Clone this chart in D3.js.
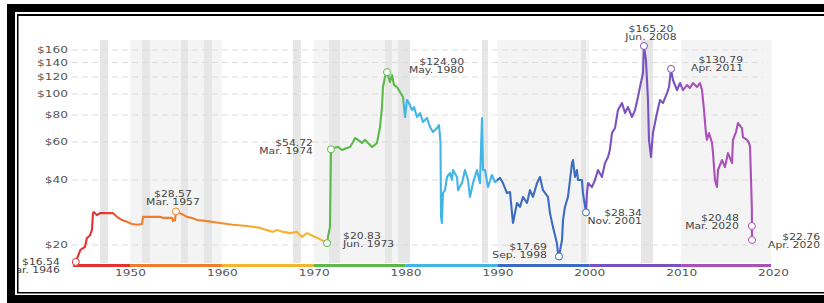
<!DOCTYPE html>
<html>
<head>
<meta charset="utf-8">
<script src="https://cdn.jsdelivr.net/npm/d3@7"></script>
<style>
  body { margin: 0; background: #fff; }
  svg { display: block; }
</style>
</head>
<body>
<div id="chart"></div>
<script>
// price series: [axis year, price in $]
var series = [
  [1944.1,16.7],[1944.6,19.0],[1945.1,19.6],[1945.3,21.5],[1945.65,22.2],[1945.86,23.5],
  [1945.97,28.1],[1946.08,28.4],[1946.4,27.5],[1946.73,28.1],[1947.5,28.1],[1948.15,28.1],
  [1948.58,27.0],[1949.13,26.1],[1949.67,25.6],[1950.22,25.0],[1950.76,24.8],[1951.3,25.0],
  [1951.42,27.0],[1951.85,27.0],[1952.5,27.0],[1953.27,27.0],[1953.6,26.7],[1954.0,26.7],
  [1954.57,26.7],[1954.68,25.8],[1954.9,26.1],[1955.0,28.6],[1955.66,27.8],[1956.2,27.0],
  [1956.75,26.7],[1957.3,26.1],[1958.4,25.8],[1959.8,25.3],[1961.2,24.8],[1962.74,24.5],
  [1964.15,24.0],[1965.57,23.0],[1966.0,23.5],[1966.66,23.0],[1967.42,22.7],[1968.18,23.0],
  [1968.72,21.8],[1969.27,22.7],[1969.92,22.0],[1970.68,21.3],[1971.23,20.65],[1971.45,20.4],
  [1971.55,21.8],[1971.77,24.2],[1971.88,55.5],[1972.1,56.3],[1972.64,56.9],[1973.08,55.1],
  [1973.62,56.3],[1973.95,56.9],[1974.28,60.0],[1974.5,62.6],[1974.82,61.4],[1975.26,59.4],
  [1975.58,61.4],[1975.91,59.4],[1976.35,56.9],[1976.67,58.2],[1976.89,59.4],[1977.22,70.4],
  [1977.43,87.1],[1977.54,107.8],[1977.76,119.9],[1977.98,126.4],[1978.09,122.5],[1978.3,113.7],
  [1978.52,122.5],[1978.74,110.1],[1979.07,107.8],[1979.39,102.2],[1979.72,96.9],[1979.94,78.3],
  [1980.15,93.9],[1980.37,90.9],[1980.7,84.3],[1980.92,87.1],[1981.24,78.3],[1981.57,81.7],
  [1981.9,74.2],[1982.33,77.5],[1982.66,70.4],[1982.98,66.7],[1983.42,69.6],[1983.64,71.9],
  [1983.8,60.0],[1983.86,27.0],[1983.96,25.3],[1984.07,34.8],[1984.29,35.9],[1984.51,41.3],
  [1984.84,43.1],[1985.05,40.0],[1985.16,44.5],[1985.6,41.3],[1985.71,35.9],[1986.14,38.7],
  [1986.47,44.5],[1986.8,40.0],[1987.01,33.4],[1987.34,38.7],[1987.77,44.5],[1988.1,38.7],
  [1988.32,77.5],[1988.43,44.5],[1988.65,44.5],[1988.97,37.1],[1989.4,42.2],[1989.73,39.1],
  [1990.28,40.9],[1990.6,38.7],[1991.04,34.8],[1991.37,35.2],[1991.69,25.3],[1992.13,31.3],
  [1992.46,30.0],[1992.78,33.4],[1993.22,31.3],[1993.54,35.9],[1993.87,33.4],[1994.31,38.7],
  [1994.63,41.3],[1994.96,35.9],[1995.5,33.4],[1995.72,28.1],[1996.05,24.2],[1996.48,20.4],
  [1996.59,18.4],[1996.7,17.7],[1997.03,21.1],[1997.14,26.1],[1997.35,30.0],[1997.68,33.4],
  [1997.9,40.0],[1998.12,47.9],[1998.23,49.5],[1998.44,41.3],[1998.66,44.5],[1998.77,40.0],
  [1999.2,40.0],[1999.31,34.8],[1999.64,28.3],[1999.75,34.8],[1999.86,38.7],[2000.29,37.1],
  [2000.62,40.0],[2000.95,44.5],[2001.38,41.3],[2001.71,47.9],[2002.04,51.1],[2002.24,55.1],
  [2002.47,66.0],[2002.8,69.6],[2003.12,84.3],[2003.56,90.9],[2003.89,81.7],[2004.21,87.1],
  [2004.65,78.3],[2004.98,84.3],[2005.3,96.9],[2005.52,108.0],[2005.85,125.2],[2005.95,167.0],
  [2006.17,143.7],[2006.39,93.9],[2006.5,61.4],[2006.72,51.1],[2006.93,66.0],[2007.37,81.7],
  [2007.7,93.9],[2008.02,90.9],[2008.46,101.1],[2008.68,107.8],[2008.9,130.8],[2009.11,116.2],
  [2009.55,104.4],[2009.88,112.5],[2010.2,104.4],[2010.64,110.1],[2010.96,106.6],[2011.29,112.5],
  [2011.72,107.8],[2012.05,112.5],[2012.27,104.4],[2012.49,84.3],[2012.7,66.0],[2012.81,61.4],
  [2013.03,66.0],[2013.36,59.4],[2013.47,53.3],[2013.68,40.0],[2013.9,37.1],[2014.01,44.5],
  [2014.45,49.5],[2014.77,45.9],[2015.1,53.3],[2015.54,47.9],[2015.64,61.4],[2015.97,66.7],
  [2016.19,73.4],[2016.62,69.6],[2016.73,63.2],[2017.17,61.4],[2017.39,59.4],[2017.5,56.9],
  [2017.62,38.7],[2017.7,29.0],[2017.7,24.5],[2017.72,21.1]
];

// annotated points
var markYears  = [1944.1, 1955.0, 1971.45, 1971.88, 1977.98, 1996.7, 1999.64, 2005.95, 2008.9, 2017.7, 2017.72];
var markPrices = [16.7, 28.6, 20.4, 55.5, 126.4, 17.7, 28.3, 167.0, 130.8, 24.5, 21.1];
var markValues = ["$16.54", "$28.57", "$20.83", "$54.72", "$124.90", "$17.69", "$28.34", "$165.20", "$130.79", "$20.48", "$22.76"];
var markDates  = ["Mar. 1946", "Mar. 1957", "Jun. 1973", "Mar. 1974", "May. 1980", "Sep. 1998", "Nov. 2001", "Jun. 2008", "Apr. 2011", "Mar. 2020", "Apr. 2020"];

// shaded bands
var recessionStarts = [1946.73, 1951.3, 1955.55, 1958.05, 1967.75, 1971.66, 1977.76, 1979.17, 1988.32, 1999.1, 2005.63];
var recessionEnds   = [1947.6, 1952.18, 1956.3, 1958.93, 1968.6, 1972.86, 1978.52, 1980.48, 1988.97, 1999.64, 2006.93];
var decadeBandStarts = [1950, 1970, 1990, 2010];

// decades and their colours
var decades = [1943.8, 1950, 1960, 1970, 1980, 1990, 2000, 2010];
var decadeColors = ["#e4332f", "#ef7d2d", "#f4b52f", "#5cb848", "#40b5e6", "#3c6cc2", "#7a52c0", "#aa50b7"];

var xTicks = [1950, 1960, 1970, 1980, 1990, 2000, 2010, 2020];
var yTicks = [20, 40, 60, 80, 100, 120, 140, 160];

var W = 824, H = 303;
var svg = d3.select("#chart").append("svg")
    .attr("width", W)
    .attr("height", H);

var x = d3.scaleLinear().domain([1950, 2020]).range([130, 773]);
var y = d3.scaleLog().domain([20, 160]).range([245, 50]);

var font = "'DejaVu Sans', sans-serif";
var stretch = 1.35;

// decade bands
svg.selectAll(".decband")
  .data(decadeBandStarts)
  .enter().append("rect")
    .attr("x", function(d) { return x(d); })
    .attr("y", 40)
    .attr("width", function(d) { return x(Math.min(d + 10, 2019.8)) - x(d); })
    .attr("height", 223)
    .attr("fill", "#f4f4f4");

// recession bands
svg.selectAll(".recband")
  .data(recessionStarts)
  .enter().append("rect")
    .attr("x", function(d) { return x(d); })
    .attr("y", 40)
    .attr("width", function(d, i) { return x(recessionEnds[i]) - x(d); })
    .attr("height", 223)
    .attr("fill", "#e6e6e6");

// dashed grid
svg.selectAll(".grid")
  .data(yTicks)
  .enter().append("line")
    .attr("x1", 72).attr("x2", 763)
    .attr("y1", function(d) { return y(d); })
    .attr("y2", function(d) { return y(d); })
    .attr("stroke", "#dcdcdc")
    .attr("stroke-width", 1)
    .attr("stroke-dasharray", "6,4");

// y axis
var yAxis = svg.append("g")
    .attr("transform", "translate(68,0)")
    .call(d3.axisLeft(y).tickValues(yTicks).tickSize(0).tickPadding(0)
      .tickFormat(function(d) { return "$" + d; }));
yAxis.select(".domain").remove();
yAxis.selectAll("text")
    .attr("x", 0)
    .attr("transform", "scale(" + stretch + ",1)")
    .style("font-family", font)
    .style("font-size", "9px")
    .style("fill", "#555");

// x axis
var xAxis = svg.append("g")
    .attr("transform", "translate(0,266)")
    .call(d3.axisBottom(x).tickValues(xTicks).tickSize(0).tickPadding(4)
      .tickFormat(d3.format("d")));
xAxis.select(".domain").remove();
xAxis.selectAll("text")
    .attr("transform", "scale(" + stretch + ",1)")
    .style("font-family", font)
    .style("font-size", "9px")
    .style("fill", "#555");

// colour of a year
function colorAt(yr) {
  var i = d3.bisectRight(decades, yr) - 1;
  return decadeColors[Math.max(0, i)];
}

// gradient for the price line
var x1 = x(decades[0]), x2 = x(2020);
function off(yr) { return (x(yr) - x1) / (x2 - x1); }
var lineStops = [
  [1943.8, decadeColors[0]], [1947, decadeColors[0]], [1950, decadeColors[1]],
  [1957, decadeColors[1]], [1966, decadeColors[2]], [1971.4, decadeColors[2]],
  [1971.4, decadeColors[3]], [1979.7, decadeColors[3]], [1979.7, decadeColors[4]],
  [1989.9, decadeColors[4]], [1989.9, decadeColors[5]], [1999.65, decadeColors[5]],
  [1999.65, decadeColors[6]], [2010, decadeColors[6]], [2010, decadeColors[7]],
  [2020, decadeColors[7]]
];
var grad = svg.append("defs").append("linearGradient")
    .attr("id", "lineGrad")
    .attr("gradientUnits", "userSpaceOnUse")
    .attr("x1", x1).attr("x2", x2).attr("y1", 0).attr("y2", 0);
grad.selectAll("stop")
  .data(lineStops)
  .enter().append("stop")
    .attr("offset", function(d) { return off(d[0]); })
    .attr("stop-color", function(d) { return d[1]; });

// colour bar along the bottom
svg.selectAll(".bar")
  .data(decades)
  .enter().append("rect")
    .attr("x", function(d) { return x(d); })
    .attr("y", 264)
    .attr("width", function(d, i) { return x(i < decades.length - 1 ? decades[i + 1] : 2019.8) - x(d); })
    .attr("height", 3)
    .attr("fill", function(d, i) { return decadeColors[i]; });

// price line
var line = d3.line()
    .x(function(d) { return x(d[0]); })
    .y(function(d) { return y(d[1]); });
svg.append("path")
    .datum(series)
    .attr("d", line)
    .attr("fill", "none")
    .attr("stroke", "url(#lineGrad)")
    .attr("stroke-width", 2.1)
    .attr("stroke-linejoin", "round");

// markers
svg.selectAll(".mark")
  .data(markYears)
  .enter().append("circle")
    .attr("cx", function(d) { return x(d); })
    .attr("cy", function(d, i) { return y(markPrices[i]); })
    .attr("r", 3.5)
    .attr("fill", "#fff")
    .attr("stroke", function(d) { return colorAt(d); })
    .attr("stroke-width", 1);

// label placement: dx, dy of first line, anchor
var place = [
  [-16, 3, "end"], [-3, -14, "middle"], [16, -4, "start"], [-18, -3, "end"],
  [77, -7, "end"], [-12, -6, "end"], [56, 4, "end"], [7, -14, "middle"],
  [72, -6, "end"], [-13, -5, "end"], [68, 0, "end"]
];
var labels = svg.selectAll(".lab")
  .data(markYears)
  .enter().append("text")
    .attr("transform", function(d, i) {
      return "translate(" + (x(d) + place[i][0]) + "," + (y(markPrices[i]) + place[i][1]) + ") scale(" + stretch + ",1)";
    })
    .attr("text-anchor", function(d, i) { return place[i][2]; })
    .style("font-family", font)
    .style("font-size", "8px")
    .style("fill", "#444");
labels.append("tspan")
    .attr("x", 0).attr("y", 0)
    .text(function(d, i) { return markValues[i]; });
labels.append("tspan")
    .attr("x", 0).attr("y", 8)
    .text(function(d, i) { return markDates[i]; });

// frame
var frame = svg.append("g");
frame.append("rect").attr("x", 0).attr("y", 0).attr("width", 7).attr("height", H).attr("fill", "#fff");
frame.append("rect").attr("x", 15).attr("y", 12).attr("width", 2).attr("height", 283).attr("fill", "#fff");
frame.append("rect").attr("x", 7).attr("y", 4).attr("width", W - 7).attr("height", 8).attr("fill", "#000");
frame.append("rect").attr("x", 7).attr("y", 4).attr("width", 8).attr("height", H - 4).attr("fill", "#000");
frame.append("rect").attr("x", 7).attr("y", 295).attr("width", W - 7).attr("height", 8).attr("fill", "#000");
frame.append("rect").attr("x", 17).attr("y", 14).attr("width", W - 17).attr("height", 2).attr("fill", "#000");
frame.append("rect").attr("x", 17).attr("y", 14).attr("width", 1.5).attr("height", 279).attr("fill", "#000");
frame.append("rect").attr("x", 17).attr("y", 292).attr("width", W - 17).attr("height", 1.5).attr("fill", "#000");
</script>
</body>
</html>
